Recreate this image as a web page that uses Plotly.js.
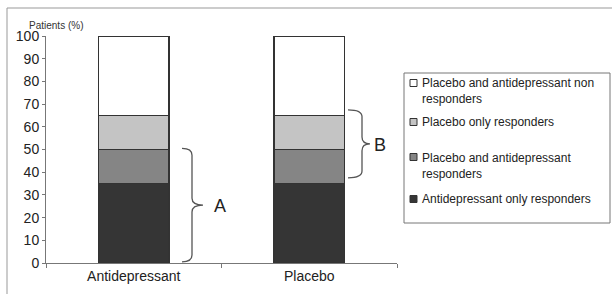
<!DOCTYPE html>
<html>
<head>
<meta charset="utf-8">
<script src="https://cdn.plot.ly/plotly-3.0.1.min.js"></script>
<style>html,body{margin:0;padding:0;background:#fff;}#chart{width:612px;height:294px;}</style>
</head>
<body>
<div id="chart"></div>
<script>
const categories = ['Antidepressant', 'Placebo'];
const antidepressantOnly = [35, 35];
const bothResponders = [15, 15];
const placeboOnly = [15, 15];
const nonResponders = [35, 35];
const seriesNames = [
  'Antidepressant only responders',
  'Placebo and antidepressant<br>responders',
  'Placebo only responders',
  'Placebo and antidepressant non<br>responders'
];
const seriesColors = ['#353535', '#858585', '#c4c4c4', '#ffffff'];
const seriesValues = [antidepressantOnly, bothResponders, placeboOnly, nonResponders];
const yTicks = [0,10,20,30,40,50,60,70,80,90,100];

const L = 46, R = 397, T = 36, B = 263;
const px = v => (v - L) / (R - L);
const py = v => (B - v) / (B - T);

const traces = seriesValues.map((vals, i) => ({
  type: 'bar', x: categories, y: vals, name: seriesNames[i],
  width: 0.4, showlegend: false, hoverinfo: 'skip',
  marker: {color: seriesColors[i], line: {color: '#333', width: 1.5}}
}));

function brace(xh, xs, xp, yTop, yBot, r) {
  const yMid = (yTop + yBot) / 2;
  const a = px(xh), s = px(xs), p = px(xp);
  return `M ${a},${yTop} Q ${s},${yTop} ${s},${yTop - r} L ${s},${yMid + r} Q ${s},${yMid} ${p},${yMid} ` +
         `Q ${s},${yMid} ${s},${yMid - r} L ${s},${yBot + r} Q ${s},${yBot} ${a},${yBot}`;
}

const shapes = [
  // outer frame
  {type: 'line', xref: 'paper', yref: 'paper', x0: px(7), x1: px(612), y0: py(8), y1: py(8), line: {color: '#999', width: 1}},
  {type: 'line', xref: 'paper', yref: 'paper', x0: px(7), x1: px(7), y0: py(8), y1: py(300), line: {color: '#999', width: 1}},
  // braces
  {type: 'path', xref: 'paper', yref: 'y', path: brace(182, 192, 203, 50.5, 0.5, 3), line: {color: '#555', width: 1.3}},
  {type: 'path', xref: 'paper', yref: 'y', path: brace(348, 362, 370, 67.5, 37.5, 3), line: {color: '#555', width: 1.3}},
  // legend box
  {type: 'rect', xref: 'paper', yref: 'paper', x0: px(404), x1: px(610), y0: py(223), y1: py(73), line: {color: '#777', width: 1}, fillcolor: 'rgba(0,0,0,0)'}
];

const legendRows = [
  {idx: 3, y: 91},
  {idx: 2, y: 122},
  {idx: 1, y: 166},
  {idx: 0, y: 199}
];
const legendMarkerY = [83, 122, 157, 199];
const annotations = [
  {xref: 'paper', yref: 'paper', x: px(27), y: py(18), xanchor: 'left', text: 'Patients (%)', showarrow: false,
   font: {family: 'Liberation Sans, Arial, sans-serif', size: 10, color: '#333'}},
  {xref: 'paper', yref: 'y', x: px(220), y: 25, text: 'A', showarrow: false,
   font: {family: 'Liberation Sans, Arial, sans-serif', size: 18, color: '#222'}},
  {xref: 'paper', yref: 'y', x: px(388), y: 52, text: 'B', showarrow: false,
   font: {family: 'Liberation Sans, Arial, sans-serif', size: 18, color: '#222'}}
];
legendRows.forEach((row, k) => {
  annotations.push({xref: 'paper', yref: 'paper', x: px(420), y: py(row.y), xanchor: 'left', yanchor: 'middle',
    align: 'left', text: seriesNames[row.idx], showarrow: false,
    font: {family: 'Liberation Sans, Arial, sans-serif', size: 12, color: '#222'}});
  const my = legendMarkerY[k];
  shapes.push({type: 'rect', xref: 'paper', yref: 'paper', x0: px(410), x1: px(417), y0: py(my + 3.5), y1: py(my - 3.5),
    fillcolor: seriesColors[row.idx], line: {color: '#333', width: 1}});
});

const layout = {
  width: 612, height: 294,
  margin: {l: L, r: 612 - R, t: T, b: 294 - B},
  paper_bgcolor: '#fff', plot_bgcolor: '#fff',
  barmode: 'stack',
  showlegend: false,
  font: {family: 'Liberation Sans, Arial, sans-serif', color: '#222'},
  xaxis: {type: 'category', range: [-0.5, 1.5], showline: true, linecolor: '#777', linewidth: 1,
          ticks: 'outside', tickson: 'boundaries', ticklen: 4, tickcolor: '#777', showgrid: false,
          tickfont: {size: 14, color: '#222'}, fixedrange: true},
  yaxis: {range: [0, 100], tickvals: yTicks, ticktext: yTicks.map(String), showline: true, linecolor: '#777', linewidth: 1,
          ticks: 'outside', ticklen: 3, tickcolor: '#777', showgrid: false, zeroline: false,
          tickfont: {size: 14, color: '#222'}, fixedrange: true},
  shapes: shapes,
  annotations: annotations
};

Plotly.newPlot('chart', traces, layout, {displayModeBar: false, staticPlot: true});
</script>
</body>
</html>
